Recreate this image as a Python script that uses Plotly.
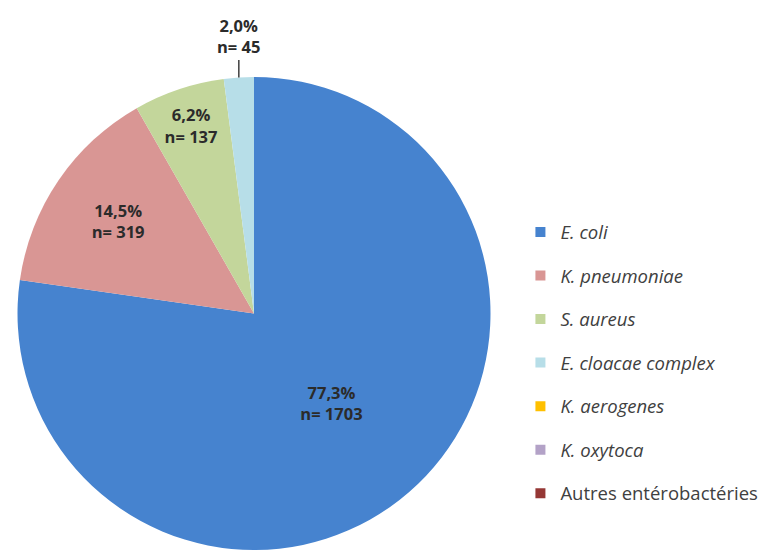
import math
import plotly.graph_objects as go

labels = ["E. coli", "K. pneumoniae", "S. aureus", "E. cloacae complex",
          "K. aerogenes", "K. oxytoca", "Autres entérobactéries"]
italic = [True, True, True, True, True, True, False]
counts = [1703, 319, 137, 45, 0, 0, 0]
colors = ["#4683CF", "#D99694", "#C3D69B", "#B7DEE8", "#FFC000", "#B3A2C7", "#953735"]

W, H = 771, 550
dom_x = [0.0227, 0.6362]
dom_y = [0.0, 0.86]

total = sum(counts)
pct = [c / total * 100 for c in counts]
pct_txt = [f"{p:.1f}".replace(".", ",") + "%" for p in pct]
slice_text = [f"<b>{pt}<br>n= {c}</b>" for pt, c in zip(pct_txt, counts)]

# small slices get an outside callout instead of inside text
small = [c > 0 and c / total < 0.03 for c in counts]
textpos = ["none" if s else "inside" for s in small]

font_fam = "'Open Sans', Lato, sans-serif"
txt_col = "#2B2B2B"

fig = go.Figure()
fig.add_trace(go.Pie(
    labels=labels, values=counts, sort=False, direction="clockwise", rotation=0,
    marker=dict(colors=colors, line=dict(width=0)),
    text=slice_text, textinfo="text", textposition=textpos,
    insidetextorientation="horizontal",
    textfont=dict(family=font_fam, size=16.5, color=txt_col),
    domain=dict(x=dom_x, y=dom_y), showlegend=False, hoverinfo="label+value+percent",
))

# legend entries
for lab, it, col in zip(labels, italic, colors):
    fig.add_trace(go.Scatter(
        x=[None], y=[None], mode="markers", name=(f"<i>{lab}</i>" if it else lab),
        marker=dict(symbol="square", size=10, color=col),
        legendgroup=lab, showlegend=True,
    ))

# callout for small slices, placed from the slice's mid angle
cx = (dom_x[0] + dom_x[1]) / 2 * W
cy = H - (dom_y[0] + dom_y[1]) / 2 * H
r = min((dom_x[1] - dom_x[0]) * W, (dom_y[1] - dom_y[0]) * H) / 2
cum = 0
for i, c in enumerate(counts):
    mid = (cum + c / 2) / total
    cum += c
    if not small[i]:
        continue
    ang = 2 * math.pi * mid
    px = cx + r * math.sin(ang)
    py = cy - r * math.cos(ang)
    fig.add_annotation(
        x=px / W, y=1 - py / H, xref="paper", yref="paper",
        text=slice_text[i], showarrow=True, arrowhead=0, arrowwidth=1.3,
        arrowcolor="#222222", ax=0, ay=-41, standoff=0,
        font=dict(family=font_fam, size=16.5, color=txt_col),
    )

fig.update_layout(
    width=W, height=H, margin=dict(l=0, r=0, t=0, b=0),
    paper_bgcolor="white", plot_bgcolor="white",
    xaxis=dict(visible=False), yaxis=dict(visible=False),
    legend=dict(x=0.675, y=0.612, xanchor="left", yanchor="top",
                font=dict(family=font_fam, size=18.5, color="#404040"),
                tracegroupgap=16.5, itemwidth=30),
)
fig.write_html("out.html", config={"displayModeBar": False},
               post_script="document.body.style.margin='0px';")
